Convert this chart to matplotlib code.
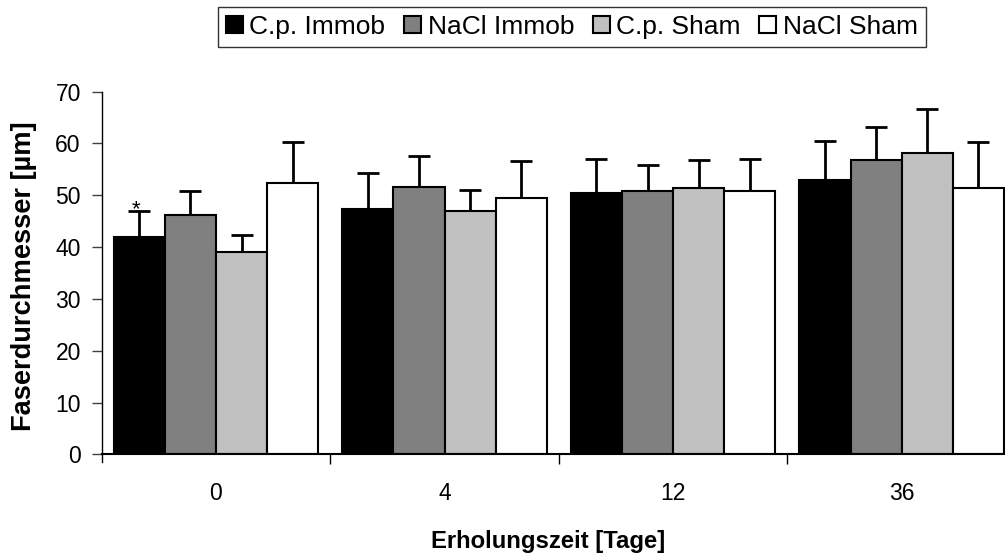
import numpy as np
import matplotlib
matplotlib.use("Agg")
import matplotlib.pyplot as plt

plt.rcParams['font.family'] = ['Liberation Sans', 'DejaVu Sans']

# Daten
tage = ["0", "4", "12", "36"]
gruppen = ["C.p. Immob", "NaCl Immob", "C.p. Sham", "NaCl Sham"]
farben = ["#000000", "#808080", "#c0c0c0", "#ffffff"]

cp_immob = [42.0, 47.3, 50.4, 52.9]
nacl_immob = [46.2, 51.6, 50.8, 56.8]
cp_sham = [39.0, 47.0, 51.5, 58.1]
nacl_sham = [52.3, 49.4, 50.8, 51.5]

# obere Fehlerbalken (SD)
sd_cp_immob = [4.9, 7.0, 6.7, 7.6]
sd_nacl_immob = [4.7, 6.0, 5.0, 6.3]
sd_cp_sham = [3.3, 4.1, 5.3, 8.5]
sd_nacl_sham = [8.0, 7.2, 6.3, 8.7]

werte = [cp_immob, nacl_immob, cp_sham, nacl_sham]
fehler = [sd_cp_immob, sd_nacl_immob, sd_cp_sham, sd_nacl_sham]

fig = plt.figure(figsize=(10.05, 5.58), dpi=100)
ax = fig.add_axes([0.1012, 0.1858, 0.9098, 0.6499])

x = np.arange(len(tage))
w = 0.2237
for j in range(4):
    pos = x + (j - 1.5) * w
    ax.bar(pos, werte[j], w, color=farben[j], edgecolor="black", linewidth=1.5,
           label=gruppen[j], zorder=2)
    ax.errorbar(pos, werte[j], yerr=[np.zeros(4), fehler[j]], fmt="none",
                ecolor="black", elinewidth=2, capsize=8, capthick=2, zorder=1)

# Signifikanz-Stern
ax.text(x[0] - 1.5 * w - 0.015, cp_immob[0] + sd_cp_immob[0] + 0.4, "*",
        ha="center", va="center", fontsize=16)

ax.set_xlim(-0.5, 3.5)
ax.set_ylim(0, 70)
ax.set_yticks(range(0, 71, 10))
ax.set_xticks(x)
ax.set_xticklabels(tage)
ax.set_xticks([0.5, 1.5, 2.5], minor=True)
ax.tick_params(axis="x", which="major", length=0, pad=20, labelsize=16.5)
ax.tick_params(axis="x", which="minor", length=7, width=1, direction="out")
ax.tick_params(axis="y", length=7, width=1, color="#404040", direction="out",
               labelsize=16.5, pad=8)
for s in ["top", "right"]:
    ax.spines[s].set_visible(False)
ax.spines["left"].set_linewidth(1)
ax.spines["bottom"].set_linewidth(1.5)
ax.spines["left"].set_bounds(-1.5, 70)

fig.text(24 / 1005, 0.505, "Faserdurchmesser [µm]", rotation=90, ha="center",
         va="center", fontsize=19.6, fontweight="bold")
fig.text(548 / 1005, 0.0174, "Erholungszeit [Tage]", ha="center", va="baseline",
         fontsize=17.2, fontweight="bold")

leg = fig.legend(loc="upper center", bbox_to_anchor=(0.569, 0.9875), ncol=4,
                 fontsize=19, frameon=True, fancybox=False, handlelength=0.65,
                 handleheight=0.65, handletextpad=0.25, columnspacing=0.7,
                 borderpad=0.3, borderaxespad=0)
leg.get_frame().set_edgecolor("black")
leg.get_frame().set_linewidth(1)

fig.savefig("out.png", dpi=100)
